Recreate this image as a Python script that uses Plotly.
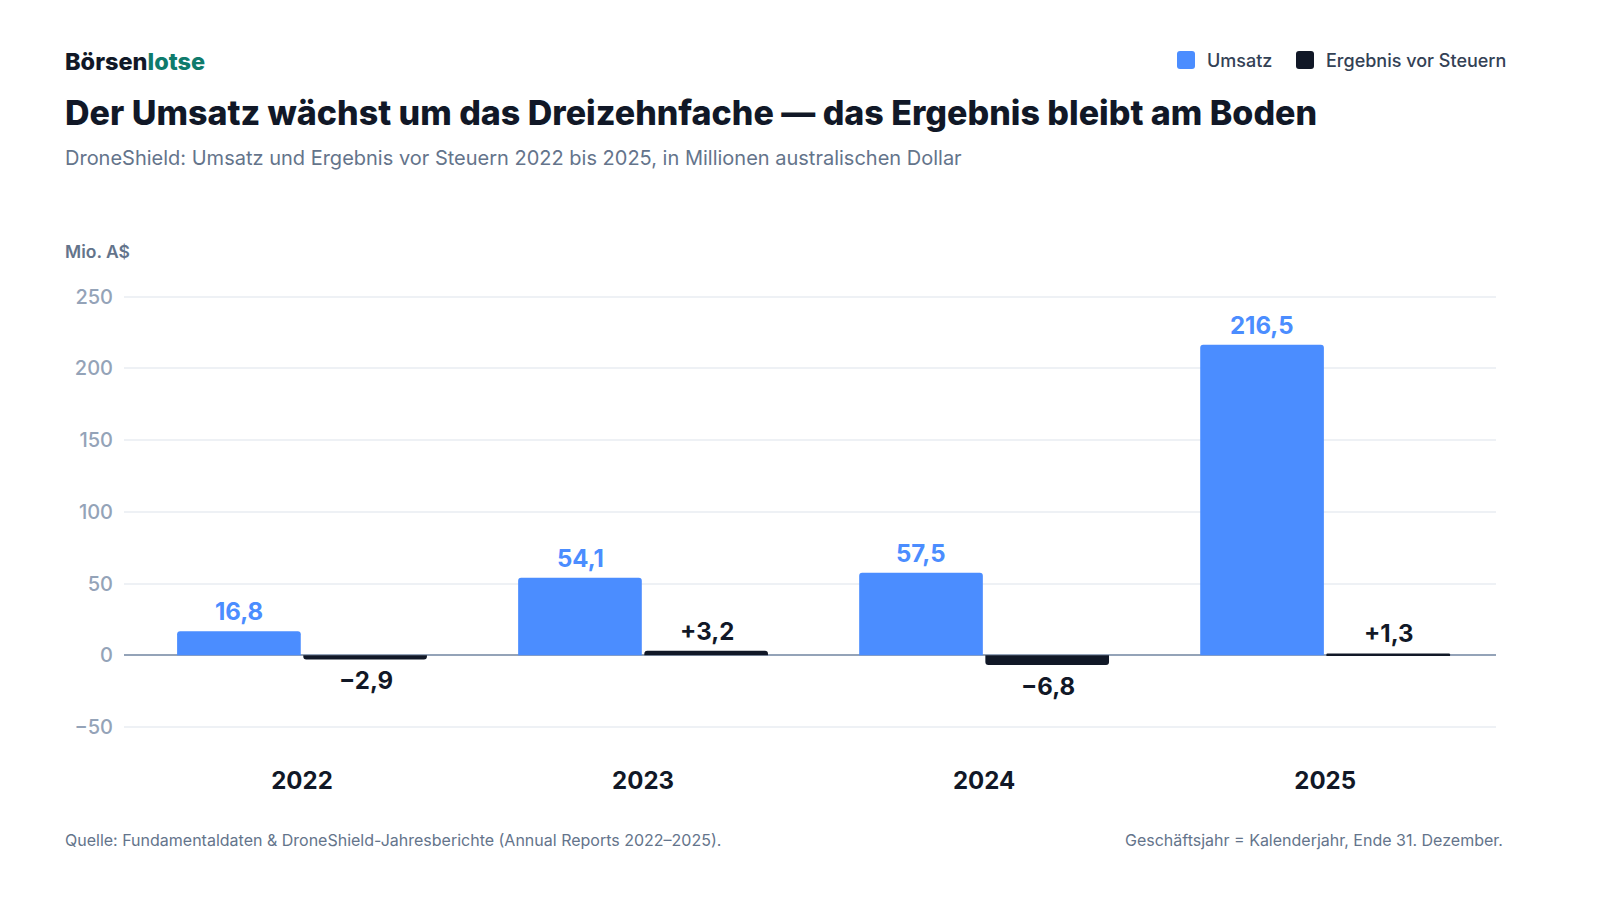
"""DroneShield: Umsatz und Ergebnis vor Steuern 2022-2025 (Börsenlotse-Stil)."""

import plotly.graph_objects as go

# ── Daten ───────────────────────────────────────────────────────────
jahre = ["2022", "2023", "2024", "2025"]
umsatz = [16.8, 54.1, 57.5, 216.5]
ergebnis = [-2.9, 3.2, -6.8, 1.3]

y_ticks = [-50, 0, 50, 100, 150, 200, 250]

BLUE = "#4b8dff"
DARK = "#111827"
GREY = "#64748b"
TICK = "#94a3b8"
TEAL = "#0f7b6c"
FONT = "Inter, Roboto, sans-serif"

# Plotbereich in Pixeln (Fenster 1600x900)
W, H = 1600, 900
PL, PR, PT, PB = 124, 1496, 268, 750


def px(x):
    """Pixel-x -> paper-x."""
    return (x - PL) / (PR - PL)


def py(y):
    """Pixel-y -> paper-y."""
    return (PB - y) / (PB - PT)


def fmt(v, sign=False):
    s = f"{abs(v):.1f}".replace(".", ",")
    if v < 0:
        return "\u2212" + s
    return ("+" if sign else "") + s


def rounded_rect(x0, y0, x1, y1, r):
    """SVG-Pfad für ein abgerundetes Rechteck (Pixel -> paper)."""
    X0, X1 = px(x0), px(x1)
    Y0, Y1 = py(y0), py(y1)
    rx = r / (PR - PL)
    ry = r / (PB - PT)
    return (
        f"M{X0 + rx},{Y0} L{X1 - rx},{Y0} Q{X1},{Y0} {X1},{Y0 - ry} "
        f"L{X1},{Y1 + ry} Q{X1},{Y1} {X1 - rx},{Y1} "
        f"L{X0 + rx},{Y1} Q{X0},{Y1} {X0},{Y1 + ry} "
        f"L{X0},{Y0 - ry} Q{X0},{Y0} {X0 + rx},{Y0} Z"
    )


fig = go.Figure()

fig.add_trace(go.Bar(
    x=jahre, y=umsatz, name="Umsatz",
    marker=dict(color=BLUE, line=dict(width=0)),
    hovertemplate="%{x}: %{y:.1f} Mio. A$<extra>Umsatz</extra>",
))
fig.add_trace(go.Bar(
    x=jahre, y=ergebnis, name="Ergebnis vor Steuern",
    marker=dict(color=DARK, line=dict(width=0)),
    hovertemplate="%{x}: %{y:.1f} Mio. A$<extra>Ergebnis vor Steuern</extra>",
))

annotations = []

# Werte-Beschriftungen über/unter den Balken
for i, (u, e) in enumerate(zip(umsatz, ergebnis)):
    annotations.append(dict(
        x=i, y=u, xref="x", yref="y", xshift=-63, yshift=3,
        text=fmt(u), showarrow=False, yanchor="bottom",
        font=dict(size=24, color=BLUE, family=FONT, weight=700),
    ))
    annotations.append(dict(
        x=i, y=e, xref="x", yref="y", xshift=64,
        yshift=3 if e >= 0 else -5,
        text=fmt(e, sign=True), showarrow=False,
        yanchor="bottom" if e >= 0 else "top",
        font=dict(size=24, color=DARK, family=FONT, weight=700),
    ))

# Kopfzeile
annotations += [
    dict(x=px(63), y=py(61), xref="paper", yref="paper", xanchor="left",
         yanchor="middle", showarrow=False,
         text=f"Börsen<span style='color:{TEAL}'>lotse</span>",
         font=dict(size=23.5, color=DARK, family=FONT, weight=800)),
    dict(x=px(63), y=py(112), xref="paper", yref="paper", xanchor="left",
         yanchor="middle", showarrow=False,
         text="Der Umsatz wächst um das Dreizehnfache — das Ergebnis bleibt am Boden",
         font=dict(size=34, color=DARK, family=FONT, weight=800)),
    dict(x=px(63), y=py(158), xref="paper", yref="paper", xanchor="left",
         yanchor="middle", showarrow=False,
         text="DroneShield: Umsatz und Ergebnis vor Steuern 2022 bis 2025, "
              "in Millionen australischen Dollar",
         font=dict(size=20, color=GREY, family=FONT)),
    dict(x=px(63), y=py(252), xref="paper", yref="paper", xanchor="left",
         yanchor="middle", showarrow=False, text="Mio. A$",
         font=dict(size=17.5, color=GREY, family=FONT, weight=600)),
    # Fußzeile
    dict(x=px(63), y=py(840), xref="paper", yref="paper", xanchor="left",
         yanchor="middle", showarrow=False,
         text="Quelle: Fundamentaldaten & DroneShield-Jahresberichte "
              "(Annual Reports 2022–2025).",
         font=dict(size=16, color=GREY, family=FONT)),
    dict(x=px(1505), y=py(840), xref="paper", yref="paper", xanchor="right",
         yanchor="middle", showarrow=False,
         text="Geschäftsjahr = Kalenderjahr, Ende 31. Dezember.",
         font=dict(size=16, color=GREY, family=FONT)),
    # Legende (Text)
    dict(x=px(1205), y=py(60), xref="paper", yref="paper", xanchor="left",
         yanchor="middle", showarrow=False, text="Umsatz",
         font=dict(size=18, color="#334155", family=FONT, weight=500)),
    dict(x=px(1324), y=py(60), xref="paper", yref="paper", xanchor="left",
         yanchor="middle", showarrow=False, text="Ergebnis vor Steuern",
         font=dict(size=18, color="#334155", family=FONT, weight=500)),
]

# Legende (Farbfelder)
shapes = [
    dict(type="path", xref="paper", yref="paper", line=dict(width=0),
         fillcolor=BLUE, path=rounded_rect(1177, 51, 1195, 69, 3)),
    dict(type="path", xref="paper", yref="paper", line=dict(width=0),
         fillcolor=DARK, path=rounded_rect(1296, 51, 1314, 69, 3)),
]

fig.update_layout(
    width=W, height=H,
    margin=dict(l=PL, r=W - PR, t=PT, b=H - PB, pad=0),
    paper_bgcolor="white", plot_bgcolor="white",
    font=dict(family=FONT, color=DARK),
    barmode="group", bargap=0.26, bargroupgap=0.02,
    barcornerradius=3,
    showlegend=False,
    annotations=annotations,
    shapes=shapes,
    hovermode="closest",
)

fig.update_xaxes(
    type="category", range=[-0.522, 3.501],
    showgrid=False, showline=False, ticks="",
    tickfont=dict(size=24, color=DARK, family=FONT, weight=700),
    ticklabelstandoff=14,
)
fig.update_yaxes(
    range=[-66, 270], tickvals=y_ticks,
    ticktext=[fmt(v).replace(",0", "") for v in y_ticks],
    showgrid=True, gridcolor="#eef1f5", gridwidth=1.5,
    zeroline=True, zerolinecolor="#94a3b8", zerolinewidth=1.5,
    showline=False, ticks="",
    tickfont=dict(size=20, color=TICK, family=FONT, weight=500),
    ticklabelstandoff=10,
)

# Seitenrand und Scrollen abschalten, damit 1600x900 das Fenster genau füllt
page_css = (
    "for (const el of [document.documentElement, document.body]) {"
    "el.style.margin='0'; el.style.padding='0';"
    "el.style.overflow='hidden'; el.style.height='900px';}"
)
fig.write_html(
    "out.html",
    config={"displayModeBar": False},
    post_script=page_css,
)
